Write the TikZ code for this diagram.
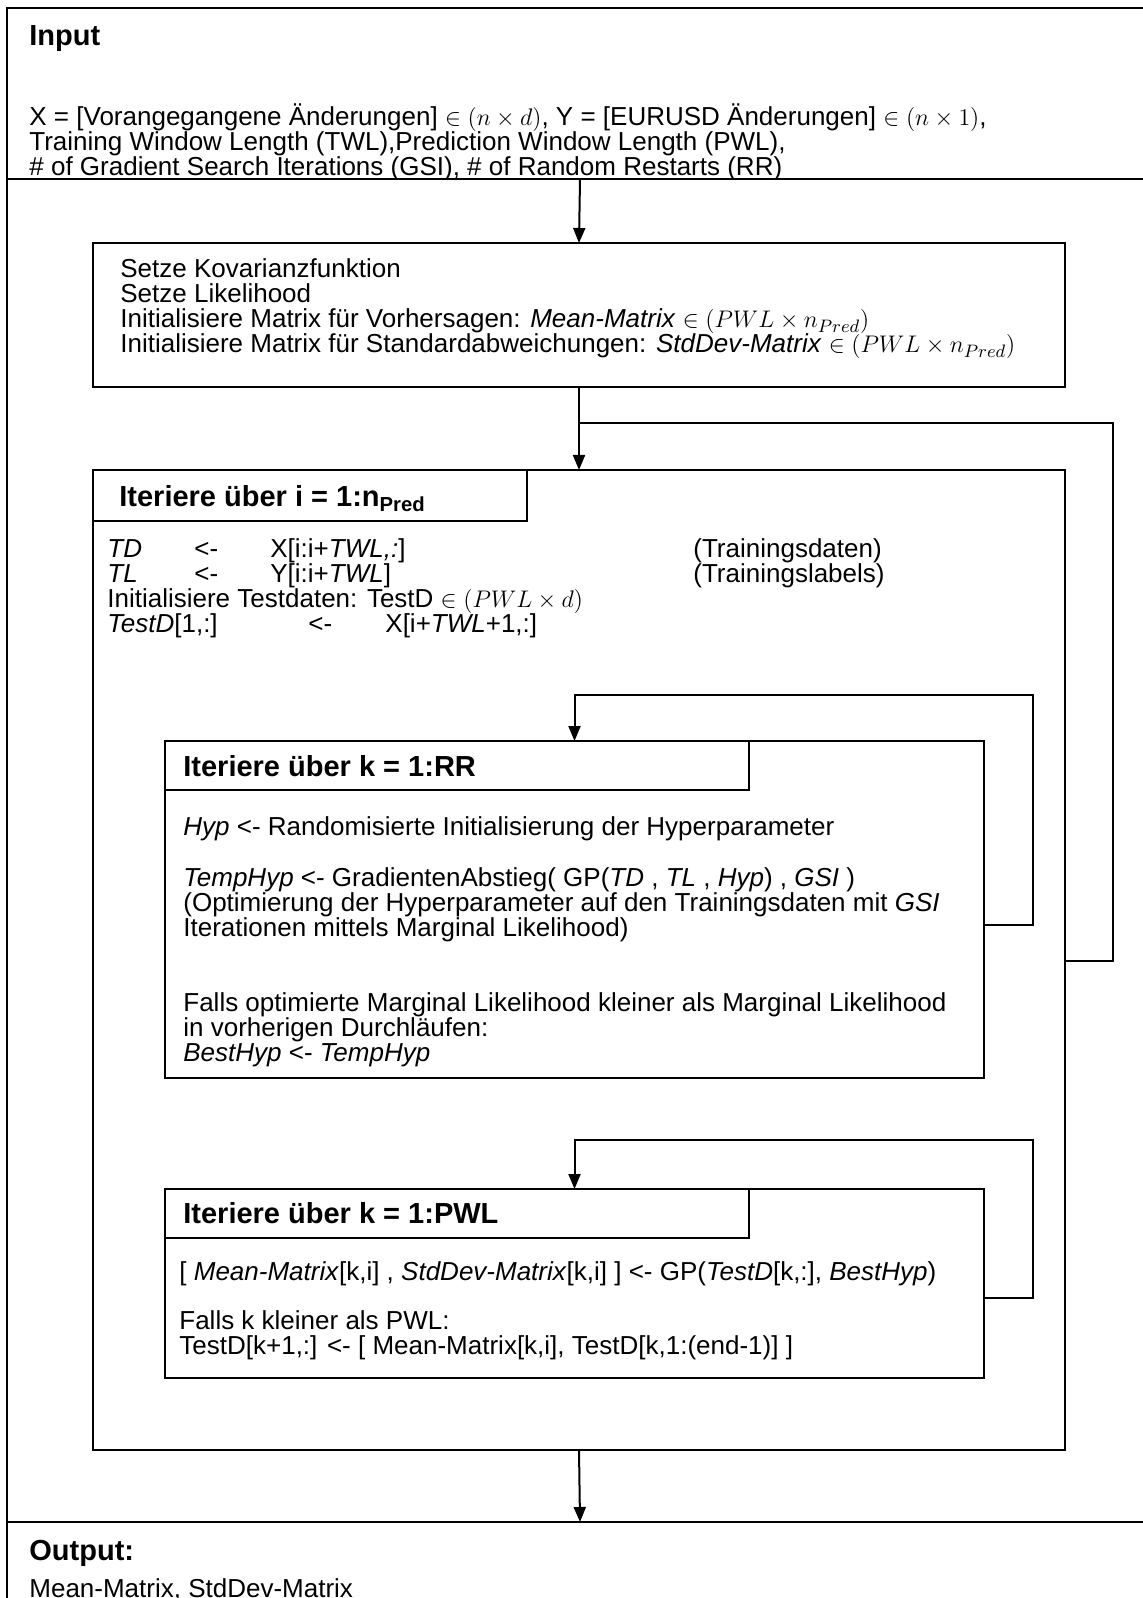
\documentclass[tikz,border=0pt]{standalone}
\usepackage{fontspec}
\setmainfont{Liberation Sans}
\usetikzlibrary{arrows.meta}
\begin{document}
\begin{tikzpicture}[x=0.5pt,y=-0.5pt,
  box/.style={draw, line width=1pt, inner sep=0pt, outer sep=0pt, anchor=north west},
  frame/.style={line width=1.2pt},
  txt/.style={anchor=base west, inner sep=0pt, font=\fontsize{13}{15}\selectfont},
  hdr/.style={anchor=base west, inner sep=0pt, font=\fontsize{14.5}{16}\selectfont\bfseries},
  conn/.style={line width=1pt},
  arr/.style={conn, -{Triangle[length=7.5pt,width=6pt]}}]
\useasboundingbox (0,0) rectangle (1143,1598);
\clip (0,0) rectangle (1143,1598);
\fill[white] (0,0) rectangle (1143,1598);
% outer frame
\draw[frame] (1160,8) -- (7,8) -- (7,1620);
\draw[frame] (7,179) -- (1160,179);
\draw[frame] (7,1522) -- (1160,1522);
\coordinate (isep) at (580,179);
\coordinate (osep) at (580,1522);
% input section
\node[hdr] (tin) at (29,46) {Input};
\begin{scope}
\clip (0,0) rectangle (1143,178);
\node[txt] (in1) at (29,126) {X = [Vorangegangene Änderungen] $\in (n\times d)$, Y = [EURUSD Änderungen] $\in (n\times 1)$,};
\node[txt] (in2) at (29,151) {Training Window Length (TWL),Prediction Window Length (PWL),};
\node[txt] (in3) at (29,176) {\# of Gradient Search Iterations (GSI), \# of Random Restarts (RR)};
\end{scope}
% box 1
\node[box, minimum width=486pt, minimum height=72pt] (b1) at (93,243) {};
\node[txt] (s1) at (120,278) {Setze Kovarianzfunktion};
\node[txt] (s2) at (120,303) {Setze Likelihood};
\node[txt] (s3) at (120,328) {Initialisiere Matrix für Vorhersagen: \textit{Mean-Matrix} $\in (PWL\times n_{Pred})$};
\node[txt] (s4) at (120,353) {Initialisiere Matrix für Standardabweichungen: \textit{StdDev-Matrix} $\in (PWL\times n_{Pred})$};
% box 2
\node[box, minimum width=486pt, minimum height=490pt] (b2) at (93,470) {};
\node[box, minimum width=217pt, minimum height=25.5pt] (b2h) at (93,470) {};
\node[hdr] (h2) at (119,507) {Iteriere über i = 1:n\textsubscript{Pred}};
\node[txt] (td1) at (107,557) {\textit{TD}};
\node[txt] (td2) at (194,557) {<-};
\node[txt] (td3) at (270,557) {X[i:i+\textit{TWL,:}]};
\node[txt] (td4) at (693,557) {(Trainingsdaten)};
\node[txt] (tl1) at (107,582) {\textit{TL}};
\node[txt] (tl2) at (194,582) {<-};
\node[txt] (tl3) at (270,582) {Y[i:i+\textit{TWL}]};
\node[txt] (tl4) at (693,582) {(Trainingslabels)};
\node[txt] (it) at (107,607) {Initialisiere Testdaten: TestD $\in (PWL\times d)$};
\node[txt] (ts1) at (107,632) {\textit{TestD}[1,:]};
\node[txt] (ts2) at (308,632) {<-};
\node[txt] (ts3) at (385,632) {X[i+\textit{TWL}+1,:]};
% box 3
\node[box, minimum width=409.5pt, minimum height=168.5pt] (b3) at (165,741) {};
\node[box, minimum width=292pt, minimum height=24.5pt] (b3h) at (165,741) {};
\node[hdr] (h3) at (183,776) {Iteriere über k = 1:RR};
\node[txt] (r1) at (183,835) {\textit{Hyp} <- Randomisierte Initialisierung der Hyperparameter};
\node[txt] (r2) at (183,886) {\textit{TempHyp} <- GradientenAbstieg( GP(\textit{TD} , \textit{TL} , \textit{Hyp}) , \textit{GSI} )};
\node[txt] (r3) at (183,911) {(Optimierung der Hyperparameter auf den Trainingsdaten mit \textit{GSI}};
\node[txt] (r4) at (183,936) {Iterationen mittels Marginal Likelihood)};
\node[txt] (r5) at (183,1011) {Falls optimierte Marginal Likelihood kleiner als Marginal Likelihood};
\node[txt] (r6) at (183,1036) {in vorherigen Durchläufen:};
\node[txt] (r7) at (183,1061) {\textit{BestHyp} <- \textit{TempHyp}};
% box 4
\node[box, minimum width=409.5pt, minimum height=94.5pt] (b4) at (165,1189) {};
\node[box, minimum width=292pt, minimum height=24.5pt] (b4h) at (165,1189) {};
\node[hdr] (h4) at (183,1223) {Iteriere über k = 1:PWL};
\node[txt] (p1) at (179,1280) {[ \textit{Mean-Matrix}[k,i] , \textit{StdDev-Matrix}[k,i] ] <- GP(\textit{TestD}[k,:], \textit{BestHyp})};
\node[txt] (p2) at (179,1329) {Falls k kleiner als PWL:};
\node[txt] (p3) at (179,1354) {TestD[k+1,:] <- [ Mean-Matrix[k,i], TestD[k,1:(end-1)] ]};
% output
\node[hdr] (tout) at (29,1560) {Output:};
\node[txt] (om) at (29,1597) {Mean-Matrix, StdDev-Matrix};
% connectors
\draw[arr] (isep) -- (b1.north);
\draw[arr] (b1.south) -- (b2.north);
\draw[conn] (b2.east |- 0,961) -| (1113,423) -- (b1.south |- 0,423);
\draw[arr] (b3.east |- 0,925) -| (1033,695) -| (b3.north);
\draw[arr] (b4.east |- 0,1298) -| (1033,1140) -| (b4.north);
\draw[arr] (b2.south) -- (osep);
\end{tikzpicture}
\end{document}
